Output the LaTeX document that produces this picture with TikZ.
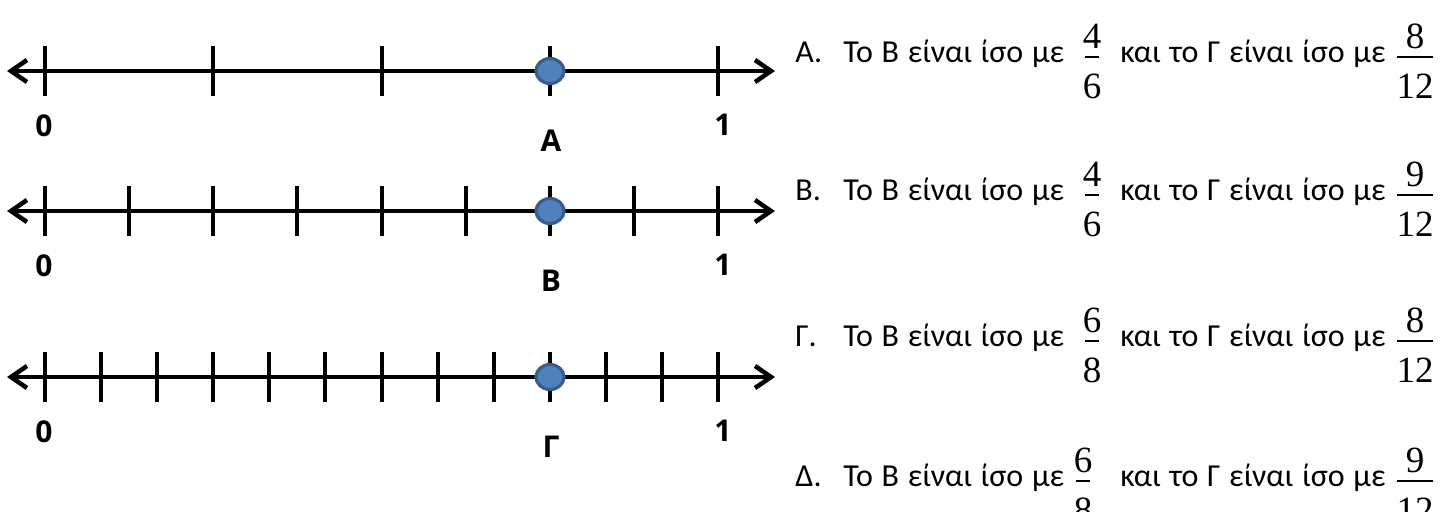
\documentclass[tikz,border=0pt]{standalone}
\usepackage{fontspec}
\setmainfont{Carlito}
\newfontfamily\rowfont{Carlito}[WordSpace=1.2]
\newfontfamily\labelfont{Open Sans}
\newfontfamily\fracfont{Liberation Serif}
\usetikzlibrary{arrows.meta,shapes.geometric}
\definecolor{dotfill}{RGB}{79,129,189}
\definecolor{dotedge}{RGB}{56,93,138}
% #1 name, #2 x, #3 text baseline, #4 numerator, #5 denominator, #6 half bar width
\newcommand\fracat[6]{%
  \node[fracnum] (#1n) at (#2,#3-14) {#4};
  \node[fracden] (#1d) at (#2,#3+36) {#5};
  \draw[fracbar] (#2-#6,#3-5) -- (#2+#6,#3-5);
}
\begin{document}
\begin{tikzpicture}[x=0.5pt,y=-0.5pt,
  axisline/.style={line width=2.25pt,{Straight Barb[length=8pt,width=11pt]}-{Straight Barb[length=8pt,width=11pt]}},
  tickmark/.style={line width=2pt},
  dotmark/.style={ellipse,minimum width=14pt,minimum height=12.5pt,inner sep=0pt,fill=dotfill,draw=dotedge,line width=1.6pt},
  numlabel/.style={font=\labelfont\bfseries\fontsize{15pt}{15pt}\selectfont,inner sep=0pt},
  rowtext/.style={anchor=base west,inner sep=0pt,font=\rowfont\fontsize{16pt}{16pt}\selectfont},
  fracnum/.style={anchor=base,inner sep=0pt,font=\fracfont\fontsize{18.5pt}{18.5pt}\selectfont},
  fracden/.style={anchor=base,inner sep=0pt,font=\fracfont\fontsize{18.5pt}{18.5pt}\selectfont},
  fracbar/.style={line width=0.9pt}]
\useasboundingbox (0,0) rectangle (1451,511);
% ---------- number lines ----------
\foreach \yy/\n/\lab/\nm in {71/4/Α/a, 211/8/Β/b, 377/12/Γ/c}{
  \coordinate (\nm L) at (7,\yy);
  \coordinate (\nm R) at (775,\yy);
  \draw[axisline] (\nm L) -- (\nm R);
  \foreach \k in {0,...,\n}{
    \draw[tickmark] (45+673*\k/\n,\yy-25) -- (45+673*\k/\n,\yy+25);
  }
  \node[dotmark] (\nm dot) at (550,\yy) {};
  \node[numlabel] (\nm zero) at (44,\yy+55) {0};
  \node[numlabel] (\nm one) at (723,\yy+54) {1};
  \node[numlabel] (\nm lab) at (551,\yy+70) {\lab};
}
% ---------- options ----------
\foreach \b/\lab/\nm in {62/Α./A, 200/Β./B, 346/Γ./C, 486/Δ./D}{
  \node[rowtext] (\nm lab) at (795,\b) {\lab};
  \node[rowtext] (\nm t1) at (843,\b) {Το Β είναι ίσο με};
  \node[rowtext] (\nm t2) at (1120,\b) {και το Γ είναι ίσο με};
}
\fracat{A1}{1092}{62}{4}{6}{7}
\fracat{A2}{1415}{62}{8}{12}{18}
\fracat{B1}{1092}{200}{4}{6}{7}
\fracat{B2}{1415}{200}{9}{12}{18}
\fracat{C1}{1092}{346}{6}{8}{7}
\fracat{C2}{1415}{346}{8}{12}{18}
\fracat{D1}{1083}{486}{6}{8}{7}
\fracat{D2}{1415}{486}{9}{12}{18}
\end{tikzpicture}
\end{document}
